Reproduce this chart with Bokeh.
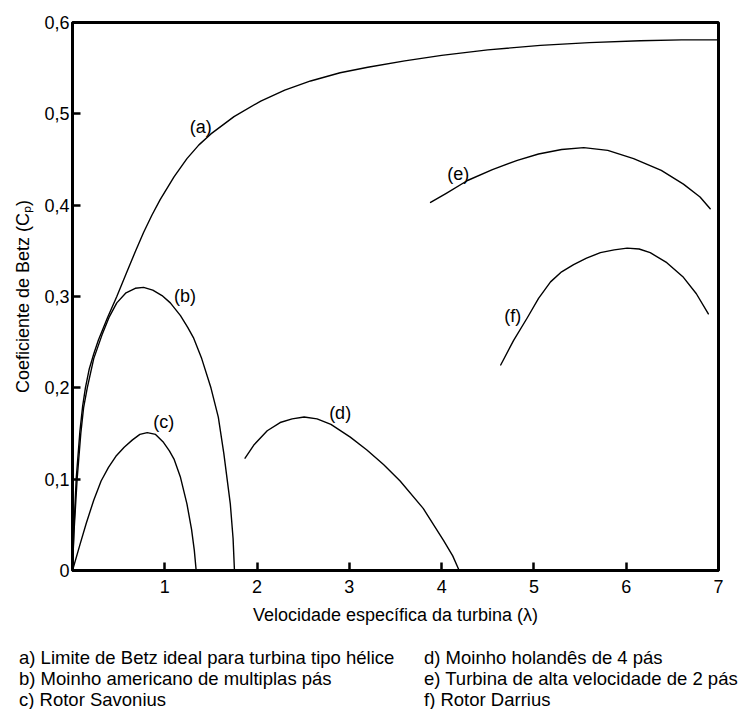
from bokeh.plotting import figure
from bokeh.models import Range1d, FixedTicker, ColumnDataSource, Div
from bokeh.layouts import column
from bokeh.core.properties import value
from bokeh.embed import file_html
from bokeh.resources import INLINE

# ---- data ----
a_x = [0, 0.015, 0.04, 0.08, 0.11, 0.14, 0.18, 0.23, 0.28, 0.38, 0.48, 0.59, 0.68, 0.77, 0.86, 0.95, 1.1, 1.24,
       1.37, 1.5, 1.75, 2.04, 2.3, 2.58, 2.9, 3.2, 3.6, 4.0, 4.5, 5.07, 5.6, 6.15, 6.6, 7.0]
a_y = [0, 0.045, 0.10, 0.152, 0.18, 0.20, 0.22, 0.237, 0.252, 0.277, 0.300, 0.327, 0.349, 0.370, 0.389, 0.406,
       0.431, 0.451, 0.466, 0.478, 0.497, 0.514, 0.526, 0.536, 0.545, 0.551, 0.558, 0.564, 0.570, 0.575, 0.578,
       0.580, 0.581, 0.581]

b_x = [0, 0.015, 0.05, 0.09, 0.12, 0.16, 0.23, 0.32, 0.40, 0.48, 0.58, 0.68, 0.77, 0.87, 0.97, 1.06, 1.17,
       1.25, 1.31, 1.40, 1.50, 1.58, 1.64, 1.71, 1.74, 1.755]
b_y = [0, 0.04, 0.10, 0.15, 0.178, 0.20, 0.232, 0.258, 0.278, 0.293, 0.304, 0.309, 0.310, 0.307, 0.301, 0.293,
       0.279, 0.266, 0.255, 0.232, 0.200, 0.168, 0.128, 0.073, 0.035, 0.0]

c_x = [0, 0.08, 0.15, 0.23, 0.31, 0.39, 0.47, 0.56, 0.65, 0.73, 0.81, 0.9, 0.98, 1.05, 1.10, 1.17, 1.24, 1.29,
       1.32, 1.34]
c_y = [0, 0.028, 0.052, 0.077, 0.098, 0.113, 0.125, 0.135, 0.143, 0.149, 0.151, 0.149, 0.141, 0.131, 0.122,
       0.102, 0.073, 0.045, 0.022, 0.0]

d_x = [1.87, 1.97, 2.11, 2.25, 2.38, 2.51, 2.65, 2.8, 3.01, 3.19, 3.37, 3.55, 3.8, 4.02, 4.12, 4.19]
d_y = [0.123, 0.138, 0.153, 0.162, 0.166, 0.168, 0.166, 0.160, 0.146, 0.132, 0.116, 0.098, 0.068, 0.033, 0.016, 0.0]

e_x = [3.88, 4.05, 4.28, 4.55, 4.82, 5.05, 5.3, 5.54, 5.8, 6.08, 6.38, 6.62, 6.8, 6.91]
e_y = [0.403, 0.413, 0.427, 0.439, 0.449, 0.456, 0.461, 0.463, 0.460, 0.451, 0.438, 0.423, 0.409, 0.396]

f_x = [4.64, 4.78, 4.93, 5.05, 5.18, 5.30, 5.43, 5.57, 5.72, 5.87, 6.01, 6.14, 6.26, 6.44, 6.62, 6.76, 6.89]
f_y = [0.225, 0.252, 0.277, 0.298, 0.316, 0.327, 0.335, 0.342, 0.348, 0.351, 0.353, 0.352, 0.348, 0.337, 0.321,
       0.303, 0.281]

curve_tags = ["(a)", "(b)", "(c)", "(d)", "(e)", "(f)"]
tag_x = [1.39, 1.22, 0.99, 2.90, 4.18, 4.77]
tag_y = [0.486, 0.301, 0.163, 0.172, 0.434, 0.279]

x_ticks = [1, 2, 3, 4, 5, 6, 7]
y_ticks = [0, 0.1, 0.2, 0.3, 0.4, 0.5, 0.6]
y_tick_labels = ["0", "0,1", "0,2", "0,3", "0,4", "0,5", "0,6"]

x_title = "Velocidade específica da turbina (λ)"
y_title = "Coeficiente de Betz (Cₚ)"

legend_left = ["a) Limite de Betz ideal para turbina tipo hélice",
               "b) Moinho americano de multiplas pás",
               "c) Rotor Savonius"]
legend_right = ["d) Moinho holandês de 4 pás",
                "e) Turbina de alta velocidade de 2 pás",
                "f) Rotor Darrius"]

FONT = "Liberation Sans"
FS = "18px"

p = figure(width=742, height=630, output_backend="svg", toolbar_location=None,
           x_range=Range1d(0, 7), y_range=Range1d(0, 0.6),
           min_border_left=72, min_border_right=24, min_border_top=22, min_border_bottom=60)
p.grid.visible = False
p.background_fill_color = "white"
p.border_fill_color = "white"
p.outline_line_color = "black"
p.outline_line_width = 3
p.outline_line_alpha = 1.0

for ax in (p.xaxis[0], p.yaxis[0]):
    ax.axis_line_width = 3
    ax.axis_line_color = "black"
    ax.major_tick_in = 8
    ax.major_tick_out = 0
    ax.major_tick_line_width = 2.5
    ax.major_tick_line_color = "black"
    ax.minor_tick_line_color = None
    ax.major_label_text_font = FONT
    ax.major_label_text_font_size = FS
    ax.major_label_text_color = "black"
    ax.axis_label_text_font = FONT
    ax.axis_label_text_font_size = FS
    ax.axis_label_text_font_style = "normal"
    ax.axis_label_text_color = "black"

p.xaxis.ticker = FixedTicker(ticks=x_ticks)
p.xaxis.major_label_standoff = 9
p.xaxis.axis_label = x_title
p.xaxis.axis_label_standoff = 9

p.yaxis.ticker = FixedTicker(ticks=y_ticks)
p.yaxis.major_label_overrides = dict(zip(y_ticks, y_tick_labels))
p.yaxis.major_label_standoff = 3
p.yaxis.axis_label = y_title
p.yaxis.axis_label_standoff = 8

for xs, ys in [(a_x, a_y), (b_x, b_y), (c_x, c_y), (d_x, d_y), (e_x, e_y), (f_x, f_y)]:
    p.line(xs, ys, line_color="black", line_width=1.4, line_join="round", line_cap="round")

src = ColumnDataSource(dict(x=tag_x, y=tag_y, t=curve_tags))
p.text(x="x", y="y", text="t", source=src, text_font=value(FONT), text_font_size=value(FS),
       text_align="center", text_baseline="middle", text_color="black")

# ---- legend text block below the chart ----
col_style = ("position:absolute;top:17px;white-space:nowrap;margin:0;padding:0;")
html = (
    "<div style=\"position:relative;width:742px;height:79px;margin:0;padding:0;"
    "font-family:'Liberation Sans',Arial,sans-serif;font-size:18.5px;line-height:21px;color:#000;\">"
    f"<div style=\"{col_style}left:19px;\">" + "<br>".join(legend_left) + "</div>"
    f"<div style=\"{col_style}left:424px;\">" + "<br>".join(legend_right) + "</div>"
    "</div>"
)
legend_div = Div(text=html, width=742, height=79, margin=0)

layout = column(p, legend_div, spacing=0)
open("out.html", "w").write(file_html(layout, INLINE))
